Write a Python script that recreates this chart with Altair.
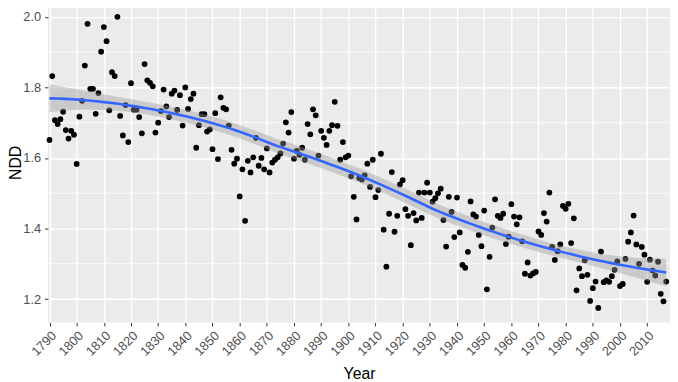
import numpy as np
import pandas as pd
import altair as alt

years = list(range(1790, 2018))
ndd = [
    1.651, 1.832, 1.707, 1.696, 1.710, 1.731, 1.679, 1.655, 1.677, 1.666,  # 1790s
    1.583, 1.717, 1.762, 1.862, 1.980, 1.796, 1.796, 1.725, 1.784, 1.901,  # 1800s
    1.971, 1.931, 1.735, 1.843, 1.832, 2.000, 1.719, 1.664, 1.750, 1.645,  # 1810s
    1.812, 1.737, 1.737, 1.716, 1.670, 1.866, 1.820, 1.813, 1.803, 1.672,  # 1820s
    1.700, 1.733, 1.794, 1.746, 1.716, 1.782, 1.791, 1.736, 1.778, 1.692,  # 1830s
    1.800, 1.739, 1.767, 1.782, 1.629, 1.693, 1.724, 1.724, 1.675, 1.681,  # 1840s
    1.625, 1.727, 1.597, 1.772, 1.742, 1.738, 1.692, 1.623, 1.584, 1.598,  # 1850s
    1.491, 1.568, 1.422, 1.592, 1.559, 1.602, 1.657, 1.578, 1.600, 1.568,  # 1860s
    1.627, 1.559, 1.587, 1.595, 1.602, 1.613, 1.641, 1.701, 1.672, 1.730,  # 1870s
    1.598, 1.620, 1.609, 1.629, 1.595, 1.696, 1.667, 1.738, 1.721, 1.607,  # 1880s
    1.677, 1.657, 1.637, 1.677, 1.693, 1.759, 1.691, 1.595, 1.645, 1.602,  # 1890s
    1.607, 1.548, 1.490, 1.426, 1.543, 1.539, 1.551, 1.584, 1.518, 1.595,  # 1900s
    1.489, 1.509, 1.612, 1.397, 1.292, 1.442, 1.560, 1.391, 1.436, 1.525,  # 1910s
    1.537, 1.455, 1.436, 1.353, 1.444, 1.423, 1.502, 1.430, 1.502, 1.530,  # 1920s
    1.502, 1.476, 1.486, 1.500, 1.513, 1.424, 1.349, 1.490, 1.447, 1.376,  # 1930s
    1.488, 1.389, 1.297, 1.289, 1.334, 1.477, 1.440, 1.434, 1.382, 1.350,  # 1940s
    1.451, 1.228, 1.320, 1.403, 1.483, 1.436, 1.430, 1.442, 1.356, 1.377,  # 1950s
    1.469, 1.434, 1.412, 1.432, 1.364, 1.272, 1.304, 1.267, 1.273, 1.277,  # 1960s
    1.392, 1.382, 1.444, 1.420, 1.502, 1.348, 1.311, 1.336, 1.355, 1.464,  # 1970s
    1.456, 1.470, 1.359, 1.429, 1.225, 1.287, 1.265, 1.310, 1.269, 1.195,  # 1980s
    1.231, 1.250, 1.175, 1.335, 1.248, 1.253, 1.249, 1.265, 1.283, 1.307,  # 1990s
    1.237, 1.243, 1.314, 1.363, 1.389, 1.437, 1.355, 1.300, 1.348, 1.326,  # 2000s
    1.249, 1.312, 1.281, 1.267, 1.306, 1.215, 1.194, 1.250,                # 2010s
]

x_ticks = list(range(1790, 2011, 10))
y_ticks = [1.2, 1.4, 1.6, 1.8, 2.0]
y_minor = [1.3, 1.5, 1.7, 1.9]

# ---- loess smooth (span 0.75, degree 2) with 95% band, like geom_smooth ----
xd = (np.array(years, dtype=float) - 1900.0) / 100.0
yd = np.array(ndd, dtype=float)
n = len(xd)
q = int(np.floor(n * 0.75))


def hat_row(x0):
    d = np.abs(xd - x0)
    h = np.sort(d)[q - 1]
    u = np.clip(d / h, 0, 1)
    w = (1 - u ** 3) ** 3
    X = np.column_stack([np.ones(n), xd - x0, (xd - x0) ** 2])
    XtW = X.T * w
    return np.linalg.solve(XtW @ X, XtW)[0]


L = np.array([hat_row(v) for v in xd])
res = yd - L @ yd
IL = np.eye(n) - L
M = IL.T @ IL
delta1 = np.trace(M)
sigma = np.sqrt(np.sum(res ** 2) / delta1)
tq = 1.971

grid = np.linspace(xd.min(), xd.max(), 80)
rows = np.array([hat_row(g) for g in grid])
fit = rows @ yd
se = sigma * np.sqrt(np.sum(rows ** 2, axis=1))
smooth = pd.DataFrame({
    "Year": grid * 100 + 1900,
    "fit": fit,
    "lo": fit - tq * se,
    "hi": fit + tq * se,
})

pts = pd.DataFrame({"Year": years, "NDD": ndd})

xscale = alt.Scale(domain=[1789.45, 2018.4], nice=False, zero=False)
yscale = alt.Scale(domain=[1.134, 2.041], nice=False, zero=False)

font = "Liberation Sans"
xaxis = alt.Axis(
    values=x_ticks, format="d", labelAngle=315, labelAlign="right",
    labelBaseline="top", labelOverlap=False, grid=True, gridColor="white",
    gridWidth=1.4, domain=False, tickColor="#333333", tickSize=3.5, tickWidth=1,
    labelColor="#4D4D4D", labelFont=font, labelFontSize=13, labelPadding=3,
    title="Year", titleFont=font, titleFontSize=16, titleFontWeight="normal",
    titleColor="black", titleY=57, titleBaseline="alphabetic",
)
yaxis = alt.Axis(
    values=y_ticks, format=".1f", labelOverlap=False, grid=True,
    gridColor="white", gridWidth=1.4,
    domain=False, tickColor="#333333", tickSize=3.5, tickWidth=1,
    labelColor="#4D4D4D", labelFont=font, labelFontSize=13, labelPadding=4,
    title="NDD", titleFont=font, titleFontSize=16, titleFontWeight="normal",
    titleColor="black", titleX=-28, titleBaseline="alphabetic",
)

minor = alt.Chart(pd.DataFrame({"m": y_minor})).mark_rule(
    color="white", strokeWidth=0.8
).encode(y=alt.Y("m:Q", scale=yscale, axis=yaxis))

points = alt.Chart(pts).mark_circle(size=34, color="black", opacity=1).encode(
    x=alt.X("Year:Q", scale=xscale, axis=xaxis),
    y=alt.Y("NDD:Q", scale=yscale, axis=yaxis),
)

band = alt.Chart(smooth).mark_area(color="#999999", opacity=0.4).encode(
    x=alt.X("Year:Q", scale=xscale, axis=xaxis),
    y=alt.Y("lo:Q", scale=yscale, axis=yaxis),
    y2="hi:Q",
)

line = alt.Chart(smooth).mark_line(color="#3366FF", strokeWidth=2.6).encode(
    x=alt.X("Year:Q", scale=xscale, axis=xaxis),
    y=alt.Y("fit:Q", scale=yscale, axis=yaxis),
)

chart = alt.layer(minor, points, band, line).properties(
    width=629.5,
    height=324,
    autosize=alt.AutoSizeParams(type="none"),
    padding={"left": 40.5, "top": -8, "right": 0, "bottom": 58},
).configure_view(fill="#EBEBEB", strokeWidth=0)

chart.save("out.html", embed_options={"renderer": "svg", "actions": False})
